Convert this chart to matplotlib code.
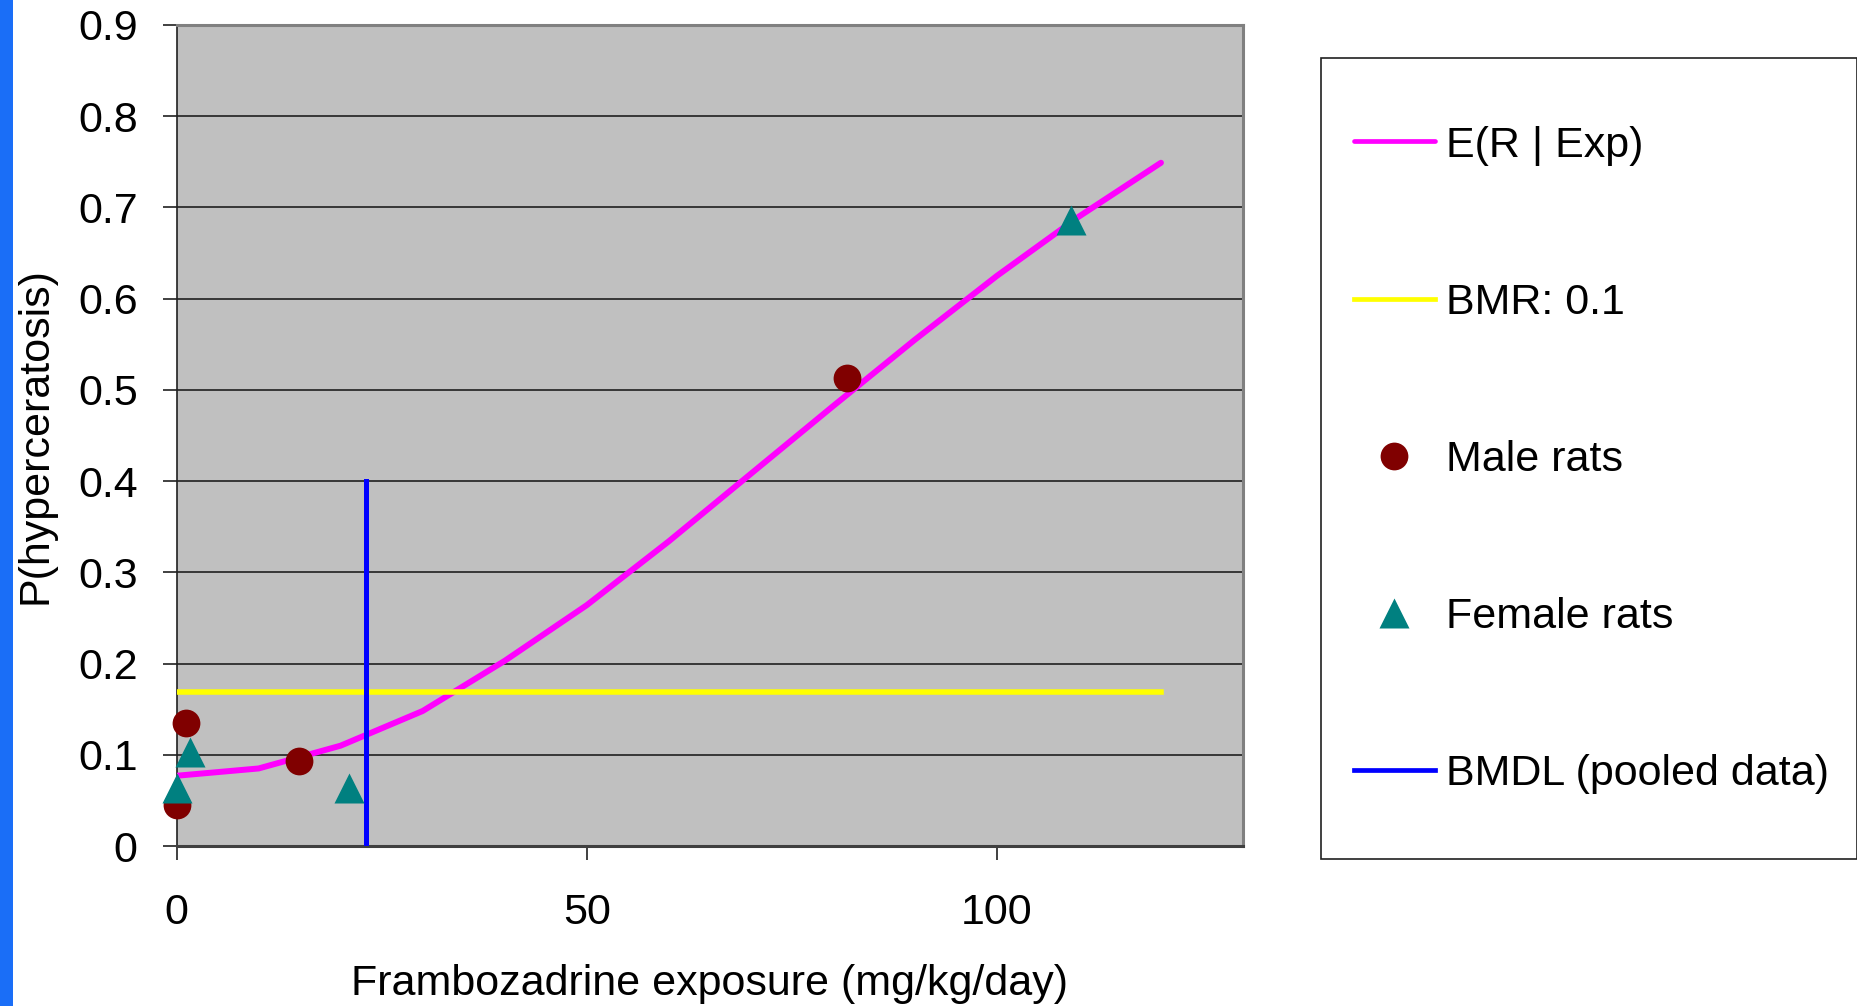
import matplotlib
matplotlib.use("Agg")
import matplotlib.pyplot as plt
from matplotlib.patches import Rectangle

plt.rcParams["font.family"] = ["Liberation Sans", "DejaVu Sans"]

# fitted curve E(R | Exp)
curve_x = [0, 10, 20, 30, 40, 50, 60, 70, 80, 90, 100, 110, 120]
curve_y = [0.077, 0.085, 0.110, 0.148, 0.203, 0.264, 0.334, 0.408, 0.482, 0.555, 0.625, 0.690, 0.749]

bmr_x = [0, 120]
bmr_y = [0.169, 0.169]

bmdl_x = [23.1, 23.1]
bmdl_y = [0, 0.40]

male_x = [0, 1.2, 14.9, 81.7]
male_y = [0.045, 0.135, 0.093, 0.513]

female_x = [0, 1.6, 21.0, 109.0]
female_y = [0.064, 0.103, 0.064, 0.686]

labels = ["E(R | Exp)", "BMR: 0.1", "Male rats", "Female rats", "BMDL (pooled data)"]

fig = plt.figure(figsize=(18.58, 10.06), dpi=100)
# blue slide strip at the left edge
fig.patches.append(Rectangle((0, 0), 13 / 1858, 1, transform=fig.transFigure,
                             facecolor="#1a6ef7", edgecolor="none", zorder=0))

ax = fig.add_axes([176.6 / 1858, 160 / 1006, (1243 - 176.6) / 1858, (981 - 160) / 1006])
ax.set_facecolor("#c0c0c0")

l1, = ax.plot(curve_x, curve_y, color="#ff00ff", lw=4.3, solid_capstyle="round", zorder=3)
l2, = ax.plot(bmr_x, bmr_y, color="#ffff00", lw=4.0, zorder=3)
m1, = ax.plot(male_x, male_y, "o", color="#800000", ms=20, mec="none", zorder=4, clip_on=False)
m2, = ax.plot(female_x, female_y, "^", color="#008080", ms=21, mec="none", zorder=5, clip_on=False)
l3, = ax.plot(bmdl_x, bmdl_y, color="#0000ff", lw=3.6, zorder=4)

ax.set_xlim(0, 130)
ax.set_ylim(0, 0.9)
ax.set_xticks([0, 50, 100])
ax.set_yticks([i / 10 for i in range(10)])
ax.set_yticklabels(["0"] + [f"{i / 10:.1f}" for i in range(1, 10)])
ax.yaxis.grid(True, color="#202020", lw=1.2)
ax.set_axisbelow(True)
ax.tick_params(axis="both", direction="out", length=10, width=1.2, color="#202020",
               labelsize=31, pad=18)
ax.tick_params(axis="x", pad=24)

for side in ["top", "right"]:
    ax.spines[side].set_color("#808080")
    ax.spines[side].set_linewidth(2.2)
ax.spines["left"].set_color("#202020")
ax.spines["left"].set_linewidth(1.2)
ax.spines["bottom"].set_color("#404040")
ax.spines["bottom"].set_linewidth(2.2)

ax.set_xlabel("Frambozadrine exposure (mg/kg/day)", fontsize=31, labelpad=22)
ax.set_ylabel("P(hyperceratosis)", fontsize=31, labelpad=16)

# legend box
fig.patches.append(Rectangle((1321 / 1858, (1006 - 859) / 1006), 536 / 1858, 801 / 1006,
                             transform=fig.transFigure, facecolor="white",
                             edgecolor="#202020", lw=1.2, zorder=1))
leg = fig.legend([l1, l2, m1, m2, l3], labels,
                 loc="upper left", bbox_to_anchor=(1332 / 1858, (1006 - 104) / 1006),
                 frameon=False, fontsize=31, handlelength=1.9, handletextpad=0.25,
                 labelspacing=2.72, borderpad=0, markerscale=1.0)
for h in leg.legend_handles:
    if h.get_linestyle() != "None":
        h.set_linewidth(3.4)

fig.savefig("out.png", dpi=100)
